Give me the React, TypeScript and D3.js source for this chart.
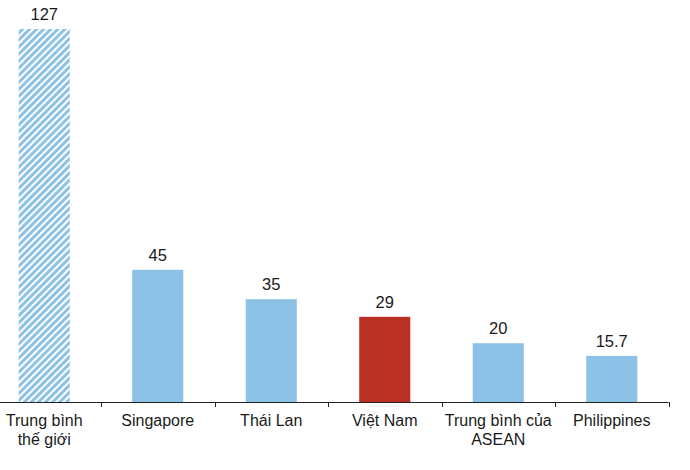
import React, { useEffect, useRef } from 'react';
import * as d3 from 'd3';

const categories = ['Trung bình thế giới', 'Singapore', 'Thái Lan', 'Việt Nam', 'Trung bình của ASEAN', 'Philippines'];
const labelLines = [['Trung bình', 'thế giới'], ['Singapore'], ['Thái Lan'], ['Việt Nam'], ['Trung bình của', 'ASEAN'], ['Philippines']];
const values = [127, 45, 35, 29, 20, 15.7];
const valueLabels = ['127', '45', '35', '29', '20', '15.7'];
const kinds = ['hatch', 'plain', 'plain', 'highlight', 'plain', 'plain'];

function App() {
    const ref = useRef<SVGSVGElement>(null);

    useEffect(() => {
        const width = 690;
        const height = 470;
        const baseY = 402;

        const svg = d3.select(ref.current);
        svg.selectAll('*').remove();
        svg.attr('width', width).attr('height', height)
            .style('font-family', '"Liberation Sans", Arial, sans-serif');

        // diagonal stripes for the world average bar
        const defs = svg.append('defs');
        const pat = defs.append('pattern')
            .attr('id', 'stripes')
            .attr('patternUnits', 'userSpaceOnUse')
            .attr('width', 5)
            .attr('height', 5)
            .attr('patternTransform', 'rotate(45)');
        pat.append('rect').attr('width', 5).attr('height', 5).attr('fill', '#fff');
        pat.append('rect').attr('width', 3).attr('height', 5).attr('fill', '#8CC2E6');

        const x = d3.scaleBand<string>()
            .domain(categories)
            .range([-12.5, 668.5])
            .paddingInner(0.55)
            .paddingOuter(0.275);

        const y = d3.scaleLinear()
            .domain([0, 127])
            .range([baseY, 29]);

        const fill = (k: string) => k === 'hatch' ? 'url(#stripes)' : k === 'highlight' ? '#BA3025' : '#8CC2E6';

        svg.selectAll('rect.bar')
            .data(values)
            .enter()
            .append('rect')
            .attr('class', 'bar')
            .attr('x', (d, i) => x(categories[i])!)
            .attr('width', x.bandwidth())
            .attr('y', d => y(d))
            .attr('height', d => baseY - y(d))
            .attr('fill', (d, i) => fill(kinds[i]));

        svg.selectAll('text.val')
            .data(values)
            .enter()
            .append('text')
            .attr('class', 'val')
            .attr('x', (d, i) => x(categories[i])! + x.bandwidth() / 2)
            .attr('y', d => y(d) - 9)
            .attr('text-anchor', 'middle')
            .attr('font-size', 16.5)
            .attr('fill', '#1a1a1a')
            .text((d, i) => valueLabels[i]);

        // axis line and ticks between categories
        const step = x.step();
        svg.append('line')
            .attr('x1', 0).attr('x2', 668.5)
            .attr('y1', baseY + 0.5).attr('y2', baseY + 0.5)
            .attr('stroke', '#222').attr('stroke-width', 1);

        const tickXs = categories.map((c, i) => -12.5 + step * (i + 1));
        svg.selectAll('line.tick')
            .data(tickXs)
            .enter()
            .append('line')
            .attr('class', 'tick')
            .attr('x1', d => Math.round(d) + 0.5)
            .attr('x2', d => Math.round(d) + 0.5)
            .attr('y1', baseY)
            .attr('y2', baseY + 5)
            .attr('stroke', '#222');

        const lbl = svg.selectAll('text.cat')
            .data(labelLines)
            .enter()
            .append('text')
            .attr('class', 'cat')
            .attr('text-anchor', 'middle')
            .attr('font-size', 16)
            .attr('fill', '#1a1a1a');

        lbl.each(function (lines, i) {
            const cx = x(categories[i])! + x.bandwidth() / 2;
            d3.select(this).selectAll('tspan')
                .data(lines)
                .enter()
                .append('tspan')
                .attr('x', cx)
                .attr('y', (l, j) => 426 + j * 18.5)
                .text(l => l);
        });
    }, []);

    return (
        <svg ref={ref} style={{ position: 'absolute', left: 0, top: 0, display: 'block' }}></svg>
    );
}

export default App;
